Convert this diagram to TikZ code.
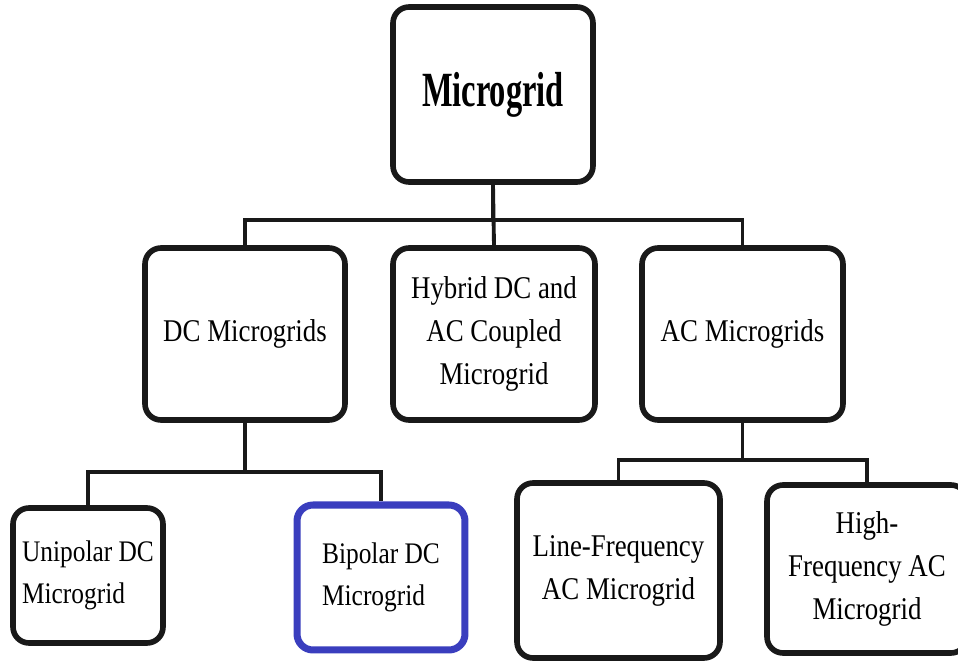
\documentclass[tikz,border=0pt]{standalone}
\usepackage{fontspec}
\setmainfont[FakeStretch=0.85]{Liberation Serif}
\newfontfamily\headfont[FakeStretch=0.66]{Liberation Serif}
\definecolor{bipblue}{RGB}{58,62,190}
\tikzset{
	box/.style={draw=black!90,line width=3.2pt,rounded corners=0.32cm,fill=white,align=center,font=\fontsize{18}{24.5}\selectfont,inner sep=2pt},
	smallbox/.style={box,align=left,font=\fontsize{17}{23.5}\selectfont},
	link/.style={draw=black!90,line width=2.2pt}
}
\begin{document}
\begin{tikzpicture}[x=0.02cm,y=0.02cm]
		%\draw [help lines] (0,0) grid (958,-662);
		\useasboundingbox (0,0) rectangle (958,-662);
		\clip (0,0) rectangle (958,-662);
		% top level
			\node [box,minimum width=4cm,minimum height=3.5cm,font=\fontsize{28}{30}\headfont\bfseries] (micro) at (493,-94.5) {Microgrid};
		% second level
			\node [box,minimum width=4cm,minimum height=3.44cm] (dc) at (245,-334) {DC Microgrids};
			\node [box,minimum width=4.04cm,minimum height=3.44cm] (hybrid) at (494,-334) {Hybrid DC and\\AC Coupled\\Microgrid};
			\node [box,minimum width=4.02cm,minimum height=3.44cm] (ac) at (742.5,-334) {AC Microgrids};
		% third level
			\node [smallbox,minimum width=3cm,minimum height=2.7cm] (uni) at (88,-575.5) {Unipolar DC\\Microgrid};
			\node [smallbox,draw=bipblue,line width=4pt,minimum width=3.36cm,minimum height=2.9cm] (bip) at (381,-577.5) {Bipolar DC\\Microgrid};
			\node [box,minimum width=4.06cm,minimum height=3.5cm] (line) at (618.5,-570.5) {Line-Frequency\\AC Microgrid};
			\node [box,minimum width=4cm,minimum height=3.36cm] (high) at (867,-569) {High-\\Frequency AC\\Microgrid};
		% buses
			\coordinate (topbus) at (0,-220);
			\coordinate (dcbus) at (0,-472);
			\coordinate (acbus) at (0,-460);
		% connectors
			\draw [link] (micro.south) -- (micro.south |- topbus) -| (dc.north);
			\draw [link] (micro.south) -- (micro.south |- topbus) -| (ac.north);
			\draw [link] (micro.south) -- (hybrid.north);
			\draw [link] (dc.south) -- (dc.south |- dcbus) -| (uni.north);
			\draw [link] (dc.south) -- (dc.south |- dcbus) -| (bip.north);
			\draw [link] (ac.south) -- (ac.south |- acbus) -| (line.north);
			\draw [link] (ac.south) -- (ac.south |- acbus) -| (high.north);
	\end{tikzpicture}
\end{document}
